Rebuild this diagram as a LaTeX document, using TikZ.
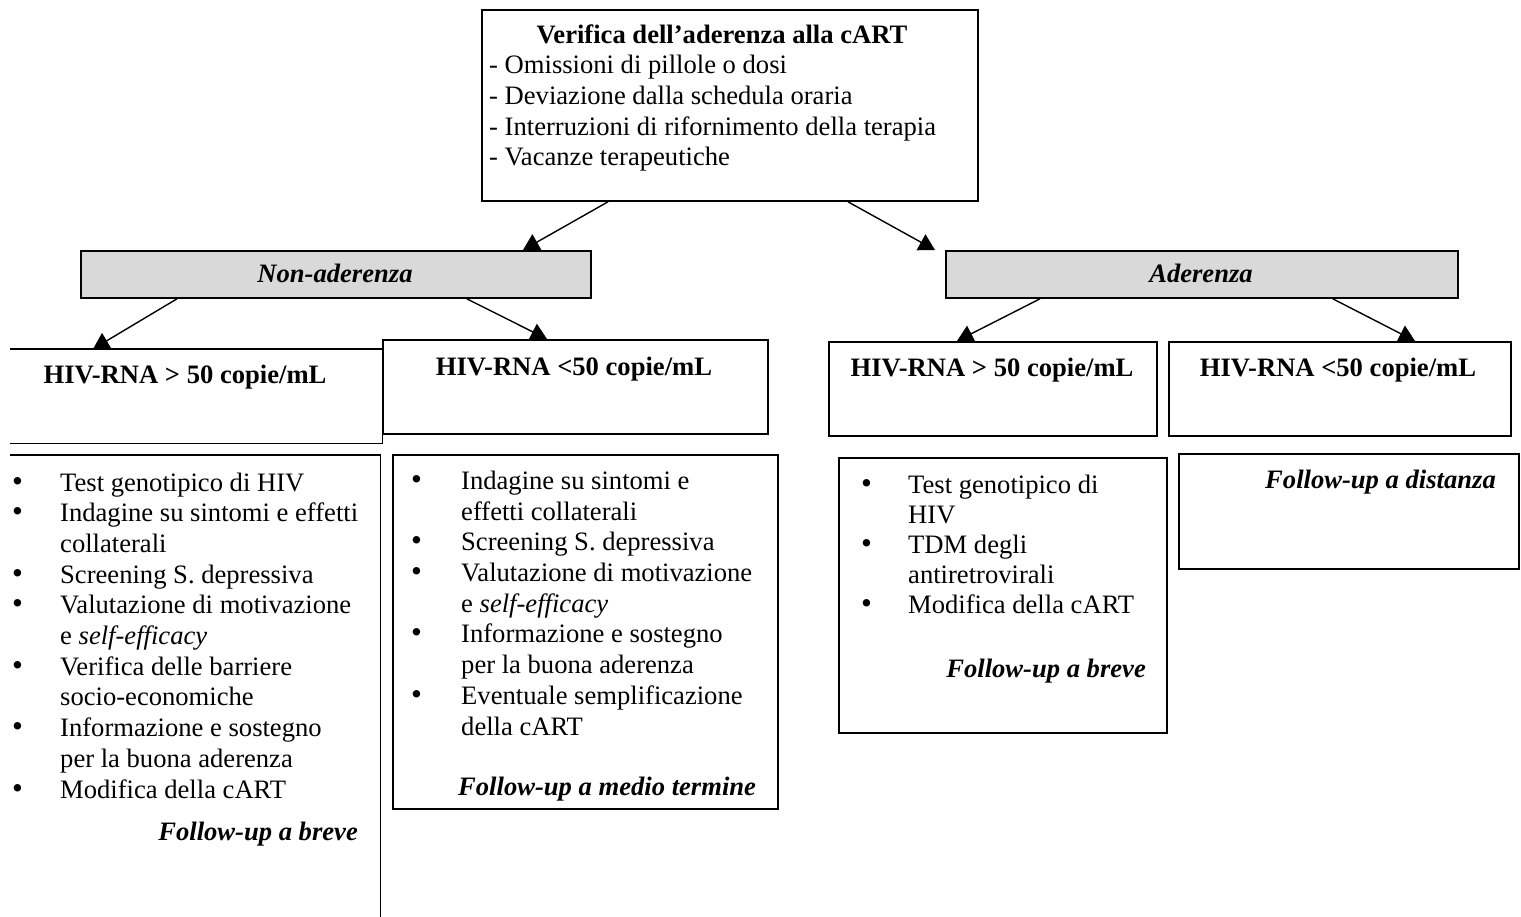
\documentclass[tikz,border=0pt]{standalone}
\usepackage{fontspec}
\setmainfont{Liberation Serif}
\usetikzlibrary{arrows.meta}
\definecolor{boxgray}{RGB}{217,217,217}
\newcommand{\bigbullet}{{\fontsize{31}{30}\selectfont\textbullet}}
\tikzset{
  frame/.style={draw=black, line width=1.8pt, inner sep=0pt, anchor=north west},
  ghost/.style={inner sep=0pt, anchor=north west},
  edge/.style={draw=black, line width=1.8pt},
  txt/.style={inner sep=0pt, font=\fontsize{26.6}{30.7}\selectfont},
  arr/.style={line width=1.4pt, -{Triangle[width=18pt,length=16pt]}},
}
\begin{document}
\begin{tikzpicture}[x=1pt,y=-1pt]
\useasboundingbox (0,0) rectangle (1521,916);

% ---------- boxes ----------
\node[frame, minimum width=496pt, minimum height=191pt] (top) at (481,9) {};
\node[frame, fill=boxgray, minimum width=510pt, minimum height=47pt] (nonad) at (80,250) {};
\node[frame, fill=boxgray, minimum width=512pt, minimum height=47pt] (ad) at (945,250) {};

\node[ghost, minimum width=372pt, minimum height=94pt] (hivL) at (10,349) {};
\draw[edge] (hivL.north west) -- (hivL.north east) -- (hivL.south east) -- (hivL.south west);
\node[frame, minimum width=385pt, minimum height=94pt] (hivM) at (382,339) {};
\node[frame, minimum width=328pt, minimum height=94pt] (hivR1) at (828,341) {};
\node[frame, minimum width=342pt, minimum height=94pt] (hivR2) at (1168,341) {};

\node[ghost, minimum width=370pt, minimum height=470pt] (listL) at (10,455) {};
\draw[edge] (listL.north west) -- (listL.north east) -- (listL.south east);
\node[frame, minimum width=385pt, minimum height=354pt] (listM) at (392,454) {};
\node[frame, minimum width=328pt, minimum height=275pt] (listR1) at (838,457) {};
\node[frame, minimum width=340pt, minimum height=115pt] (listR2) at (1178,453) {};

% ---------- top box text ----------
\node[txt, anchor=base] (ttitle) at (722,43) {\textbf{Verifica dell’aderenza alla cART}};
\foreach \t [count=\i] in {{- Omissioni di pillole o dosi},{- Deviazione dalla schedula oraria},{- Interruzioni di rifornimento della terapia},{- Vacanze terapeutiche}}
  \node[txt, anchor=base west] (tl\i) at (489,{43+\i*30.7}) {\t};

% ---------- level 2 labels ----------
\node[txt, anchor=base] (tnonad) at (335,282) {\textbf{\textit{Non-aderenza}}};
\node[txt, anchor=base] (tad) at (1201,282) {\textbf{\textit{Aderenza}}};

% ---------- HIV labels ----------
\node[txt, anchor=base] (thivL) at (185,383) {\textbf{HIV-RNA > 50 copie/mL}};
\node[txt, anchor=base] (thivM) at (574,375) {\textbf{HIV-RNA <50 copie/mL}};
\node[txt, anchor=base] (thivR1) at (992,376) {\textbf{HIV-RNA > 50 copie/mL}};
\node[txt, anchor=base] (thivR2) at (1338,376) {\textbf{HIV-RNA <50 copie/mL}};

% ---------- left list ----------
\foreach \t [count=\i] in {{Test genotipico di HIV},{Indagine su sintomi e effetti},{collaterali},{Screening S. depressiva},{Valutazione di motivazione},{e \textit{self-efficacy}},{Verifica delle barriere},{socio-economiche},{Informazione e sostegno},{per la buona aderenza},{Modifica della cART}}
  \node[txt, anchor=base west] (lL\i) at (60,{491+(\i-1)*30.7}) {\t};
\foreach \i in {1,2,4,5,7,9,11}
  \node[txt, anchor=base west] (bL\i) at (12,{491+(\i-1)*30.7}) {\bigbullet};
\node[txt, anchor=base east] (fL) at (358,840) {\textbf{\textit{Follow-up a breve}}};

% ---------- middle list ----------
\foreach \t [count=\i] in {{Indagine su sintomi e},{effetti collaterali},{Screening S. depressiva},{Valutazione di motivazione},{e \textit{self-efficacy}},{Informazione e sostegno},{per la buona aderenza},{Eventuale semplificazione},{della cART}}
  \node[txt, anchor=base west] (lM\i) at (461,{489.4+(\i-1)*30.7}) {\t};
\foreach \i in {1,3,4,6,8}
  \node[txt, anchor=base west] (bM\i) at (411,{489.4+(\i-1)*30.7}) {\bigbullet};
\node[txt, anchor=base west] (fM) at (458,795) {\textbf{\textit{Follow-up a medio termine}}};

% ---------- right lists ----------
\foreach \t [count=\i] in {{Test genotipico di},{HIV},{TDM degli},{antiretrovirali},{Modifica della cART}}
  \node[txt, anchor=base west] (lR\i) at (908,{493+(\i-1)*30.2}) {\t};
\foreach \i in {1,3,5}
  \node[txt, anchor=base west] (bR\i) at (861,{493+(\i-1)*30.2}) {\bigbullet};
\node[txt, anchor=base east] (fR1) at (1146,677) {\textbf{\textit{Follow-up a breve}}};
\node[txt, anchor=base east] (fR2) at (1496,488) {\textbf{\textit{Follow-up a distanza}}};

% ---------- connectors ----------
\draw[arr] ([xshift=127pt]top.south west) -- ([xshift=443pt]nonad.north west);
\draw[arr] ([xshift=367pt]top.south west) -- ([xshift=-10pt]ad.north west);
\draw[arr] ([xshift=97pt]nonad.south west) -- ([xshift=83pt]hivL.north west);
\draw[arr] ([xshift=-125pt]nonad.south east) -- ([xshift=165pt]hivM.north west);
\draw[arr] ([xshift=95pt]ad.south west) -- ([xshift=129pt]hivR1.north west);
\draw[arr] ([xshift=-126pt]ad.south east) -- ([xshift=247pt]hivR2.north west);
\end{tikzpicture}
\end{document}
